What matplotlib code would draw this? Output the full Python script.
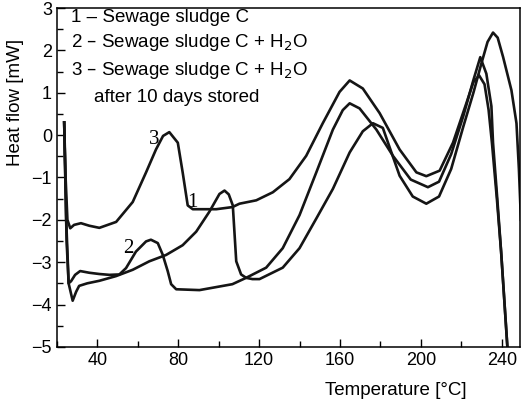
import matplotlib
matplotlib.use("Agg")
from matplotlib import pyplot as plt
from matplotlib.ticker import MultipleLocator

plt.rcParams['font.family'] = ['Liberation Sans', 'DejaVu Sans']

# curve 1 - sewage sludge C
t1 = [23.6, 24.6, 25.8, 27.8, 29.5, 31, 35, 41, 49.2, 57.5, 65.7, 74, 82.2, 88.9, 95.4, 100.4, 102.9,
      105, 107, 108.7, 111.1, 113.6, 116.7, 120.2, 131.7, 140, 148.3, 156.5, 164.8, 171.3, 176.3,
      181.2, 189.5, 196, 202.7, 209, 215, 221, 226, 230, 233, 235.7, 238, 240.7, 244.8, 247.3, 248.5, 249.5]
h1 = [0.3, -2.0, -3.5, -3.91, -3.7, -3.56, -3.5, -3.44, -3.33, -3.18, -2.98, -2.83, -2.6, -2.28, -1.81, -1.39, -1.31,
      -1.4, -1.66, -2.98, -3.29, -3.37, -3.4, -3.4, -3.13, -2.67, -1.97, -1.27, -0.41, 0.09, 0.28,
      0.17, -0.96, -1.45, -1.62, -1.45, -0.8, 0.2, 1.0, 1.7, 2.2, 2.42, 2.3, 1.84, 1.06, 0.28, -0.8, -2.0]

# curve 2 - sewage sludge C + H2O
t2 = [23.6, 24.8, 25.8, 27, 29, 31.5, 36, 41, 46, 50.9, 54.2, 59.1, 64.1, 66.5, 69.9, 72.3, 74.8, 76.5,
      79, 90.5, 106.8, 113.6, 123.5, 131.7, 140, 148.3, 156.5, 161.4, 164.8, 169.7, 178, 186.2, 195,
      203.5, 209, 215, 221, 226, 229.4, 232.4, 234.9, 235.7, 237.8, 239.7, 242.8, 243.3]
h2 = [0.3, -2.5, -3.5, -3.45, -3.3, -3.21, -3.25, -3.28, -3.3, -3.29, -3.14, -2.75, -2.51, -2.47, -2.55, -2.82, -3.21, -3.52,
      -3.64, -3.66, -3.52, -3.37, -3.13, -2.67, -1.89, -0.88, 0.13, 0.59, 0.75, 0.63, 0.13, -0.49, -1.05,
      -1.23, -1.1, -0.45, 0.45, 1.3, 1.84, 1.45, 0.68, -0.18, -1.5, -2.75, -5.0, -5.4]

# curve 3 - sewage sludge C + H2O after 10 days stored
t3 = [23.6, 24.3, 25.2, 26.6, 28.5, 31.9, 36, 41, 49.3, 57.5, 64.1, 69, 72.5, 75.6, 79.8, 82.2, 84.7, 87.2,
      98.8, 106.8, 110.3, 118.6, 126.8, 135, 143.3, 151.5, 159.8, 164.8, 171.3, 179.6, 189.5, 197.8,
      202.7, 209.3, 215.9, 222.5, 226, 228.8, 231.5, 233.5, 235.2, 237.6, 239.7, 242.8, 243.3]
h3 = [0.3, -1.0, -2.0, -2.2, -2.12, -2.08, -2.14, -2.19, -2.05, -1.58, -0.88, -0.34, -0.02, 0.07, -0.18, -0.88, -1.66, -1.75,
      -1.75, -1.70, -1.62, -1.54, -1.35, -1.04, -0.49, 0.28, 1.02, 1.29, 1.10, 0.52, -0.34, -0.88,
      -0.97, -0.84, -0.18, 0.75, 1.25, 1.41, 1.2, 0.6, -0.2, -1.5, -2.75, -5.0, -5.4]

legend_lines = ["1 – Sewage sludge C",
                "2 – Sewage sludge C + H$_2$O",
                "3 – Sewage sludge C + H$_2$O",
                "after 10 days stored"]

fig = plt.figure(figsize=(5.22, 4.01), dpi=100)
ax = fig.add_axes([0.109, 0.135, 0.887, 0.845])

for t, h in [(t1, h1), (t2, h2), (t3, h3)]:
    ax.plot(t, h, color="#151515", lw=1.9, solid_joinstyle="round")

ax.set_xlim(20, 249)
ax.set_ylim(-5, 3)
ax.xaxis.set_major_locator(MultipleLocator(40))
ax.xaxis.set_minor_locator(MultipleLocator(20))
ax.yaxis.set_major_locator(MultipleLocator(1))
ax.yaxis.set_minor_locator(MultipleLocator(0.5))
ax.tick_params(which="both", direction="in", labelsize=13, width=1)
ax.tick_params(which="major", length=6)
ax.tick_params(which="minor", length=4)
ax.set_xticks([40, 80, 120, 160, 200, 240])
for s in ax.spines.values():
    s.set_linewidth(1.1)

ax.set_xlabel("Temperature [°C]", fontsize=13.5)
ax.set_ylabel("Heat flow [mW]", fontsize=13.5)
ax.xaxis.set_label_coords(0.732, -0.105)
ax.yaxis.set_label_coords(-0.07, 0.72)

ys = [0.973, 0.897, 0.817, 0.737]
xs = [0.03, 0.03, 0.03, 0.08]
for txt, x, y in zip(legend_lines, xs, ys):
    ax.text(x, y, txt, transform=ax.transAxes, fontsize=13.5, va="center")

ax.text(87, -1.6, "1", family="Liberation Serif", fontsize=15, ha="center", va="center")
ax.text(55.5, -2.68, "2", family="Liberation Serif", fontsize=15, ha="center", va="center")
ax.text(68, -0.1, "3", family="Liberation Serif", fontsize=15, ha="center", va="center")

plt.savefig("out.png", dpi=100)
